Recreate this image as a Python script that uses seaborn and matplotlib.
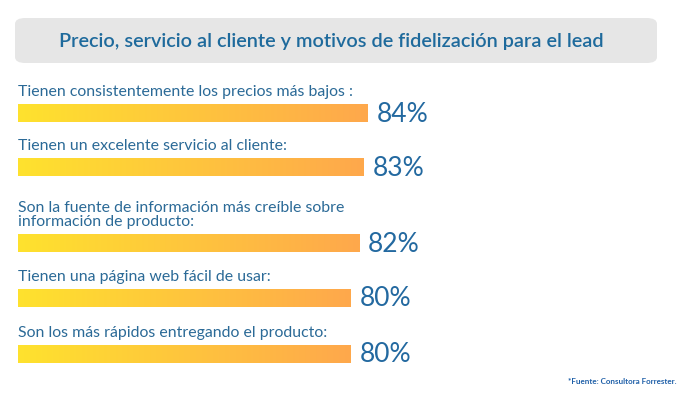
import numpy as np
import pandas as pd
import matplotlib
matplotlib.use("Agg")
import matplotlib.pyplot as plt
from matplotlib.patches import FancyBboxPatch
from matplotlib.colors import LinearSegmentedColormap
import seaborn as sns

# ---- data ----
title = "Precio, servicio al cliente y motivos de fidelización para el lead"
labels = [
    "Tienen consistentemente los precios más bajos :",
    "Tienen un excelente servicio al cliente:",
    "Son la fuente de información más creíble sobre\ninformación de producto:",
    "Tienen una página web fácil de usar:",
    "Son los más rápidos entregando el producto:",
]
values = [84, 83, 82, 80, 80]
value_labels = ["84%", "83%", "82%", "80%", "80%"]
footnote = "*Fuente: Consultora Forrester."

# ---- layout (pixel rows of bar centres) ----
row_y = [113, 167, 243, 298, 354]

W, H = 695, 397
sns.set_theme(style="white")
plt.rcParams["font.family"] = ["Lato", "DejaVu Sans"]

fig = plt.figure(figsize=(W / 100, H / 100), dpi=100)
fig.patch.set_facecolor("white")
ax = fig.add_axes([0, 0, 1, 1])

px = 4.16  # pixels per percentage unit
left_px = 18
df = pd.DataFrame({"value": values, "row": row_y})
sns.barplot(data=df, x="value", y="row", orient="h", native_scale=True,
            width=16.5 / 52, color="#FFB040", ax=ax)
ax.set_xlim(-left_px / px, (W - left_px) / px)
ax.set_ylim(H, 0)
ax.axis("off")

cmap = LinearSegmentedColormap.from_list("g", ["#FEE22E", "#FFA84C"])
grad = np.linspace(0, 1, 256).reshape(1, -1)
text_col = "#2369A0"
for p, lab, vl in zip(ax.patches, labels, value_labels):
    x0, y0, w, h = p.get_x(), p.get_y(), p.get_width(), p.get_height()
    p.set_visible(False)
    ax.imshow(grad, cmap=cmap, aspect="auto", extent=(x0, x0 + w, y0 + h, y0),
              interpolation="bicubic", zorder=2)
    top = min(y0, y0 + h)
    ax.text(0, top - 5, lab, ha="left", va="bottom", fontsize=11.4,
            color="#2B6A97", linespacing=1.08, fontweight="normal")
    ax.text(x0 + w + 9 / px, y0 + h / 2 + 1, vl, ha="left", va="center",
            fontsize=19, color=text_col, fontweight="normal")
ax.set_xlim(-left_px / px, (W - left_px) / px)
ax.set_ylim(H, 0)

# title box
box = FancyBboxPatch((15 / W, 1 - 63 / H), (657 - 15) / W, 45 / H,
                     boxstyle="round,pad=0,rounding_size=0.015",
                     transform=fig.transFigure, facecolor="#E6E6E6",
                     edgecolor="none", zorder=0)
fig.patches.append(box)
fig.text(331 / W, 1 - 41 / H, title, ha="center", va="center",
         fontsize=14.3, color="#1E6A9C", fontweight="semibold")

fig.text(676 / W, 1 - 381 / H, footnote, ha="right", va="center",
         fontsize=5.8, color="#1E5FA8", fontweight="bold")

fig.savefig("out.png", dpi=100, facecolor="white")
